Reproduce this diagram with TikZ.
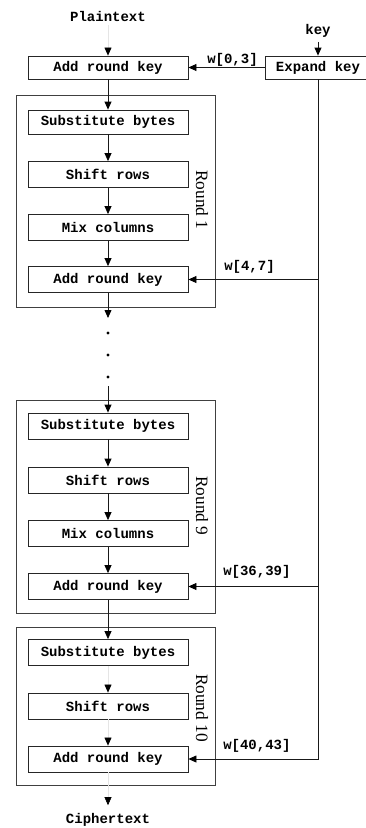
\documentclass[tikz,border=0pt]{standalone}
\usepackage{fontspec}
\setmonofont{Liberation Mono}
\newfontfamily\roundfont{Liberation Serif}
\usetikzlibrary{arrows.meta}

\begin{document}
\begin{tikzpicture}[x=0.75pt,y=-0.75pt,
  stepbox/.style={draw=black!85, line width=0.6pt, minimum width=120pt,
    minimum height=19.5pt, inner sep=0pt,
    font=\ttfamily\bfseries\fontsize{10.5}{12}\selectfont},
  txt/.style={inner sep=3pt, font=\ttfamily\bfseries\fontsize{10.5}{12}\selectfont},
  keylabel/.style={inner sep=0pt, anchor=west,
    font=\ttfamily\bfseries\fontsize{10.5}{12}\selectfont},
  roundlabel/.style={rotate=-90, inner sep=0pt,
    font=\roundfont\fontsize{13}{15}\selectfont},
  frame/.style={draw=black!75, line width=0.6pt},
  arr/.style={draw=black!90, line width=0.6pt,
    -{Triangle[length=6pt,width=5.2pt,color=black]}},
  faint/.style={draw=black!10, line width=0.5pt,
    -{Triangle[length=6pt,width=5.2pt,color=black]}},
  dot/.style={fill=black}
]
\useasboundingbox (0,0) rectangle (366,828);

% inputs
\node[txt] (pt) at (108,16) {Plaintext};
\node[txt] (key) at (318,31) {key};

% initial round key and key expansion
\node[stepbox, minimum height=17.25pt] (ark0) at (108,67.5) {Add round key};
\node[stepbox, minimum height=17.25pt, minimum width=79.5pt] (exp) at (318,67.5) {Expand key};

% round 1
\draw[frame] (16,95) rectangle (215,307);
\node[stepbox, minimum height=18pt] (sub1) at (108,122) {Substitute bytes};
\node[stepbox] (shf1) at (108,174.5) {Shift rows};
\node[stepbox] (mix1) at (108,227.5) {Mix columns};
\node[stepbox] (ark1) at (108,279.5) {Add round key};
\node[roundlabel] (rl1) at (202,200) {Round 1};

% elided rounds
\coordinate (g1) at (108,318);
\coordinate (g2) at (108,386);
\fill[dot] (108,333) circle (1.6);
\fill[dot] (108,355) circle (1.6);
\fill[dot] (108,377) circle (1.6);

% round 9
\draw[frame] (16,400) rectangle (215,613);
\node[stepbox] (sub9) at (108,426) {Substitute bytes};
\node[stepbox] (shf9) at (108,480) {Shift rows};
\node[stepbox] (mix9) at (108,533.5) {Mix columns};
\node[stepbox] (ark9) at (108,586.5) {Add round key};
\node[roundlabel] (rl9) at (202,506) {Round 9};

% round 10 (no column mixing)
\draw[frame] (16,627) rectangle (215,785);
\node[stepbox] (sub10) at (108,652.5) {Substitute bytes};
\node[stepbox] (shf10) at (108,706) {Shift rows};
\node[stepbox] (ark10) at (108,759) {Add round key};
\node[roundlabel] (rl10) at (202,708) {Round 10};

% output
\node[txt] (ct) at (108,820) {Ciphertext};

% data path
\draw[faint] (pt) -- (ark0);
\draw[arr] (ark0) -- (sub1);
\draw[arr] (sub1) -- (shf1);
\draw[arr] (shf1) -- (mix1);
\draw[arr] (mix1) -- (ark1);
\draw[arr] (ark1) -- (g1);
\draw[arr] (g2) -- (sub9);
\draw[arr] (sub9) -- (shf9);
\draw[arr] (shf9) -- (mix9);
\draw[arr] (mix9) -- (ark9);
\draw[arr] (ark9) -- (sub10);
\draw[faint] (sub10) -- (shf10);
\draw[faint] (shf10) -- (ark10);
\draw[faint, shorten >=3pt] (ark10) -- (ct);

% key schedule
\draw[arr] (key) -- (exp);
\draw[arr] (exp) -- (ark0);
\draw[arr] (exp.south |- ark1.east) -- (ark1.east);
\draw[arr] (exp.south |- ark9.east) -- (ark9.east);
\draw[arr] (exp.south) |- (ark10.east);

% round key labels
\node[keylabel] (w0) at (207,60) {w[0,3]};
\node[keylabel] (w1) at (224,267) {w[4,7]};
\node[keylabel] (w9) at (223,572) {w[36,39]};
\node[keylabel] (w10) at (223,746) {w[40,43]};
\end{tikzpicture}
\end{document}
